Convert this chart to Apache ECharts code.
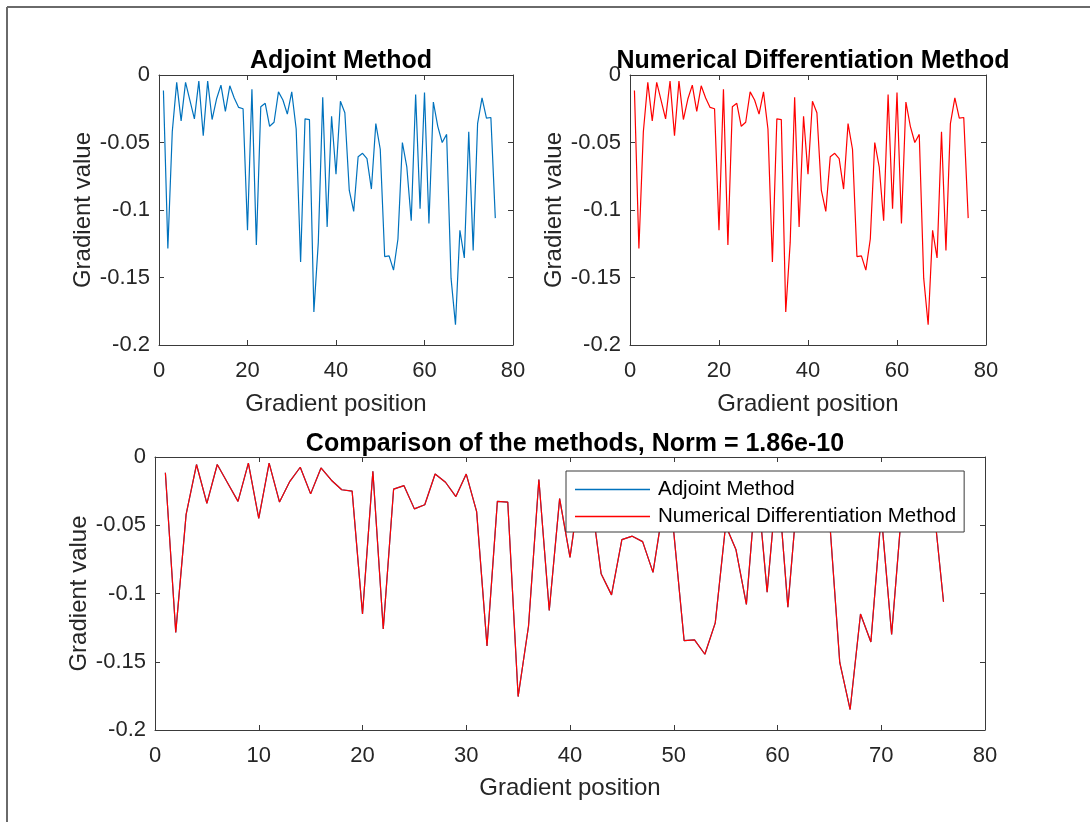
<!DOCTYPE html>
<html>
<head>
<meta charset="utf-8">
<script src="https://cdn.jsdelivr.net/npm/echarts@6/dist/echarts.min.js"></script>
<style>
  html, body { margin: 0; padding: 0; background: #ffffff; }
  #chart { width: 1090px; height: 822px; }
</style>
</head>
<body>
<div id="chart"></div>
<script>
// Gradient components, positions 1..76
const adjointGradient = [
  -0.0115, -0.1285, -0.042, -0.0055, -0.034, -0.0055, -0.019, -0.0325, -0.0045, -0.045,
  -0.0045, -0.033, -0.0178, -0.0075, -0.027, -0.008, -0.017, -0.024, -0.025, -0.115,
  -0.0105, -0.126, -0.0235, -0.021, -0.038, -0.035, -0.0125, -0.0185, -0.029, -0.0125,
  -0.040, -0.1385, -0.0325, -0.033, -0.1755, -0.124, -0.0165, -0.1125, -0.0305, -0.0735,
  -0.0195, -0.028, -0.0855, -0.101, -0.0605, -0.058, -0.062, -0.0845, -0.036, -0.055,
  -0.1345, -0.134, -0.1445, -0.1215, -0.050, -0.068, -0.108, -0.0145, -0.099, -0.013,
  -0.110, -0.020, -0.038, -0.050, -0.044, -0.1505, -0.185, -0.115, -0.1355, -0.042,
  -0.130, -0.036, -0.017, -0.032, -0.0315, -0.106
];
const numericalGradient = [
  -0.0115, -0.1285, -0.042, -0.0055, -0.034, -0.0055, -0.019, -0.0325, -0.0045, -0.045,
  -0.0045, -0.033, -0.0178, -0.0075, -0.027, -0.008, -0.017, -0.024, -0.025, -0.115,
  -0.0105, -0.126, -0.0235, -0.021, -0.038, -0.035, -0.0125, -0.0185, -0.029, -0.0125,
  -0.040, -0.1385, -0.0325, -0.033, -0.1755, -0.124, -0.0165, -0.1125, -0.0305, -0.0735,
  -0.0195, -0.028, -0.0855, -0.101, -0.0605, -0.058, -0.062, -0.0845, -0.036, -0.055,
  -0.1345, -0.134, -0.1445, -0.1215, -0.050, -0.068, -0.108, -0.0145, -0.099, -0.013,
  -0.110, -0.020, -0.038, -0.050, -0.044, -0.1505, -0.185, -0.115, -0.1355, -0.042,
  -0.130, -0.036, -0.017, -0.032, -0.0315, -0.106
];
const normValue = '1.86e-10';

const titles = ['Adjoint Method', 'Numerical Differentiation Method',
  'Comparison of the methods, Norm = ' + normValue];
const seriesNames = ['Adjoint Method', 'Numerical Differentiation Method'];
const xLabel = 'Gradient position';
const yLabel = 'Gradient value';

const BLUE = '#0072BD';
const RED = '#FF0000';
const AXIS = '#3a3a3a';
const FONT = '"Liberation Sans", Arial, Helvetica, sans-serif';

const toPairs = arr => arr.map((v, i) => [i + 1, v]);

const grids = [
  { left: 159, top: 75, width: 354, height: 270 },
  { left: 630, top: 75, width: 356, height: 270 },
  { left: 155, top: 457, width: 830, height: 273 }
];
const xIntervals = [20, 20, 10];
const xNameGaps = [47, 47, 46];

const xAxes = [], yAxes = [];
grids.forEach((g, gi) => {
  const tick = { show: true, inside: true, length: 5, lineStyle: { color: AXIS, width: 1 } };
  const line = { show: true, onZero: false, lineStyle: { color: AXIS, width: 1 } };
  xAxes.push({
    type: 'value', gridIndex: gi, min: 0, max: 80, interval: xIntervals[gi],
    position: 'bottom', axisLine: line, axisTick: tick, splitLine: { show: false },
    axisLabel: { color: '#262626', fontSize: 22, fontFamily: FONT, margin: 15 },
    name: xLabel, nameLocation: 'middle', nameGap: xNameGaps[gi], nameMoveOverlap: false,
    nameTextStyle: { color: '#262626', fontSize: 24, fontFamily: FONT }
  });
  xAxes.push({
    type: 'value', gridIndex: gi, min: 0, max: 80, interval: xIntervals[gi],
    position: 'top', axisLine: line, axisTick: tick, splitLine: { show: false },
    axisLabel: { show: false }
  });
  yAxes.push({
    type: 'value', gridIndex: gi, min: -0.2, max: 0, interval: 0.05,
    position: 'left', axisLine: line, axisTick: tick, splitLine: { show: false },
    axisLabel: { color: '#262626', fontSize: 22, fontFamily: FONT, margin: 9 },
    name: yLabel, nameLocation: 'middle', nameGap: 64, nameMoveOverlap: false,
    nameTextStyle: { color: '#262626', fontSize: 24, fontFamily: FONT }
  });
  yAxes.push({
    type: 'value', gridIndex: gi, min: -0.2, max: 0, interval: 0.05,
    position: 'right', axisLine: line, axisTick: tick, splitLine: { show: false },
    axisLabel: { show: false }
  });
});

const lineSeries = (name, data, color, gi) => ({
  name: name, type: 'line', data: toPairs(data),
  xAxisIndex: gi * 2, yAxisIndex: gi * 2,
  showSymbol: false, symbol: 'none', smooth: false,
  lineStyle: { color: color, width: 1.2 }, itemStyle: { color: color },
  silent: true, animation: false
});

const option = {
  backgroundColor: '#ffffff',
  animation: false,
  title: [
    { text: titles[0], left: 336, top: 44, textAlign: 'center',
      textStyle: { fontSize: 25, fontWeight: 'bold', color: '#000', fontFamily: FONT } },
    { text: titles[1], left: 808, top: 44, textAlign: 'center',
      textStyle: { fontSize: 25, fontWeight: 'bold', color: '#000', fontFamily: FONT } },
    { text: titles[2], left: 570, top: 427, textAlign: 'center',
      textStyle: { fontSize: 25, fontWeight: 'bold', color: '#000', fontFamily: FONT } }
  ],
  legend: {
    orient: 'vertical', left: 566, top: 471,
    data: seriesNames,
    icon: 'rect',
    itemWidth: 75, itemHeight: 1.3, itemGap: 6,
    padding: [8, 8, 5, 9],
    backgroundColor: '#ffffff', borderColor: AXIS, borderWidth: 1,
    textStyle: { color: '#000', fontSize: 20.5, fontFamily: FONT, padding: [0, 0, 0, 3] },
    selectedMode: false
  },
  grid: grids,
  xAxis: xAxes,
  yAxis: yAxes,
  series: [
    lineSeries(seriesNames[0], adjointGradient, BLUE, 0),
    lineSeries(seriesNames[1], numericalGradient, RED, 1),
    lineSeries(seriesNames[0], adjointGradient, BLUE, 2),
    lineSeries(seriesNames[1], numericalGradient, RED, 2)
  ],
  graphic: [
    { type: 'line', shape: { x1: 7, y1: 7, x2: 1090, y2: 7 },
      style: { stroke: '#6a6a6a', lineWidth: 2 }, silent: true },
    { type: 'line', shape: { x1: 7, y1: 7, x2: 7, y2: 822 },
      style: { stroke: '#6a6a6a', lineWidth: 2 }, silent: true }
  ]
};

const chart = echarts.init(document.getElementById('chart'), null, { renderer: 'canvas' });
chart.setOption(option);
</script>
</body>
</html>
